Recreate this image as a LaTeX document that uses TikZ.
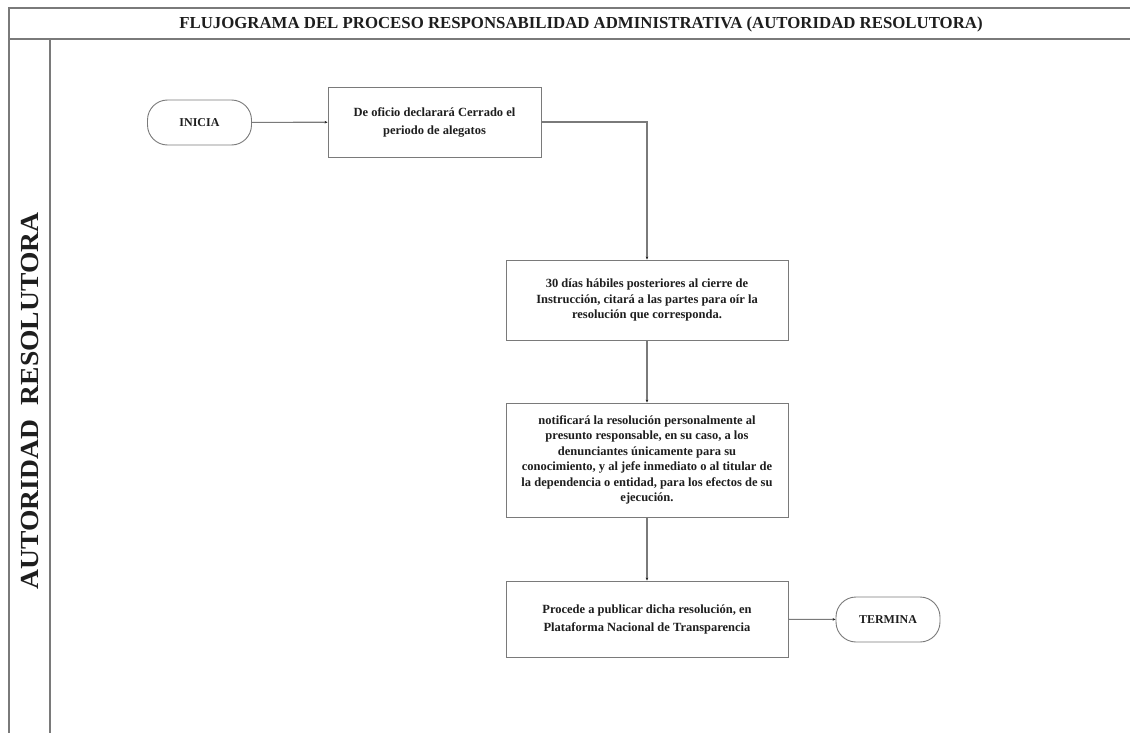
\documentclass[tikz,border=0pt]{standalone}
\usepackage{fontspec}
\setmainfont{Liberation Serif}
\usetikzlibrary{arrows.meta}
\definecolor{rule}{HTML}{7A7A7A}
\definecolor{ink}{HTML}{1E1E1E}
\tikzset{
  frameline/.style={draw=rule, line width=1.3pt},
  stepbox/.style={draw=rule, line width=0.9pt, rectangle, align=center,
    text=ink, font=\fontsize{12.5}{15.5}\selectfont\bfseries, inner sep=4pt},
  widestep/.style={stepbox, font=\fontsize{12.5}{18}\selectfont\bfseries},
  terminal/.style={draw=rule, line width=0.9pt, rectangle, rounded corners=20pt,
    minimum width=104pt, minimum height=45pt, text=ink,
    font=\fontsize{12}{14}\selectfont\bfseries},
  conn/.style={draw=rule, line width=1.1pt, -{Stealth[length=3pt,width=2.6pt,color=ink]}},
}
\begin{document}
\begin{tikzpicture}[x=1pt,y=-1pt]
\useasboundingbox (0,0) rectangle (1130,733);
\fill[white] (0,0) rectangle (1130,733);

% frame, title band and lane column
\draw[frameline] (9,733) -- (9,8) -- (1130,8);
\draw[frameline] (9,39) -- (1130,39);
\draw[frameline] (50,39) -- (50,733);

\node[text=ink, font=\fontsize{16.8}{18}\selectfont\bfseries] (title) at (581,24.5)
  {FLUJOGRAMA DEL PROCESO RESPONSABILIDAD ADMINISTRATIVA (AUTORIDAD RESOLUTORA)};

\node[text=ink, rotate=90, font=\fontsize{26}{28}\selectfont\bfseries] (lane) at (30,401)
  {\scalebox{1.06}[1]{AUTORIDAD\hspace{14pt}RESOLUTORA}};

% process steps
\node[terminal] (ini) at (199.5,122.5) {INICIA};
\node[widestep, minimum width=213pt, minimum height=70pt] (b1) at (434.5,122)
  {De oficio declarará Cerrado el\\periodo de alegatos};
\node[stepbox, minimum width=282pt, minimum height=80pt] (b2) at (647,300)
  {30 días hábiles posteriores al cierre de\\Instrucción, citará a las partes para oír la\\resolución que corresponda.};
\node[stepbox, minimum width=282pt, minimum height=114pt] (b3) at (647,460)
  {notificará la resolución personalmente al\\presunto responsable, en su caso, a los\\denunciantes únicamente para su\\conocimiento, y al jefe inmediato o al titular de\\la dependencia o entidad, para los efectos de su\\ejecución.};
\node[widestep, minimum width=282pt, minimum height=76pt] (b4) at (647,619)
  {Procede a publicar dicha resolución, en\\Plataforma Nacional de Transparencia};
\node[terminal] (fin) at (888,619.5) {TERMINA};

% connectors
\draw[conn] (ini) -- (b1);
\draw[conn] (b1.east) -| (b2.north);
\draw[conn] (b2) -- (b3);
\draw[conn] (b3) -- (b4);
\draw[conn] (b4) -- (fin);
\end{tikzpicture}
\end{document}
